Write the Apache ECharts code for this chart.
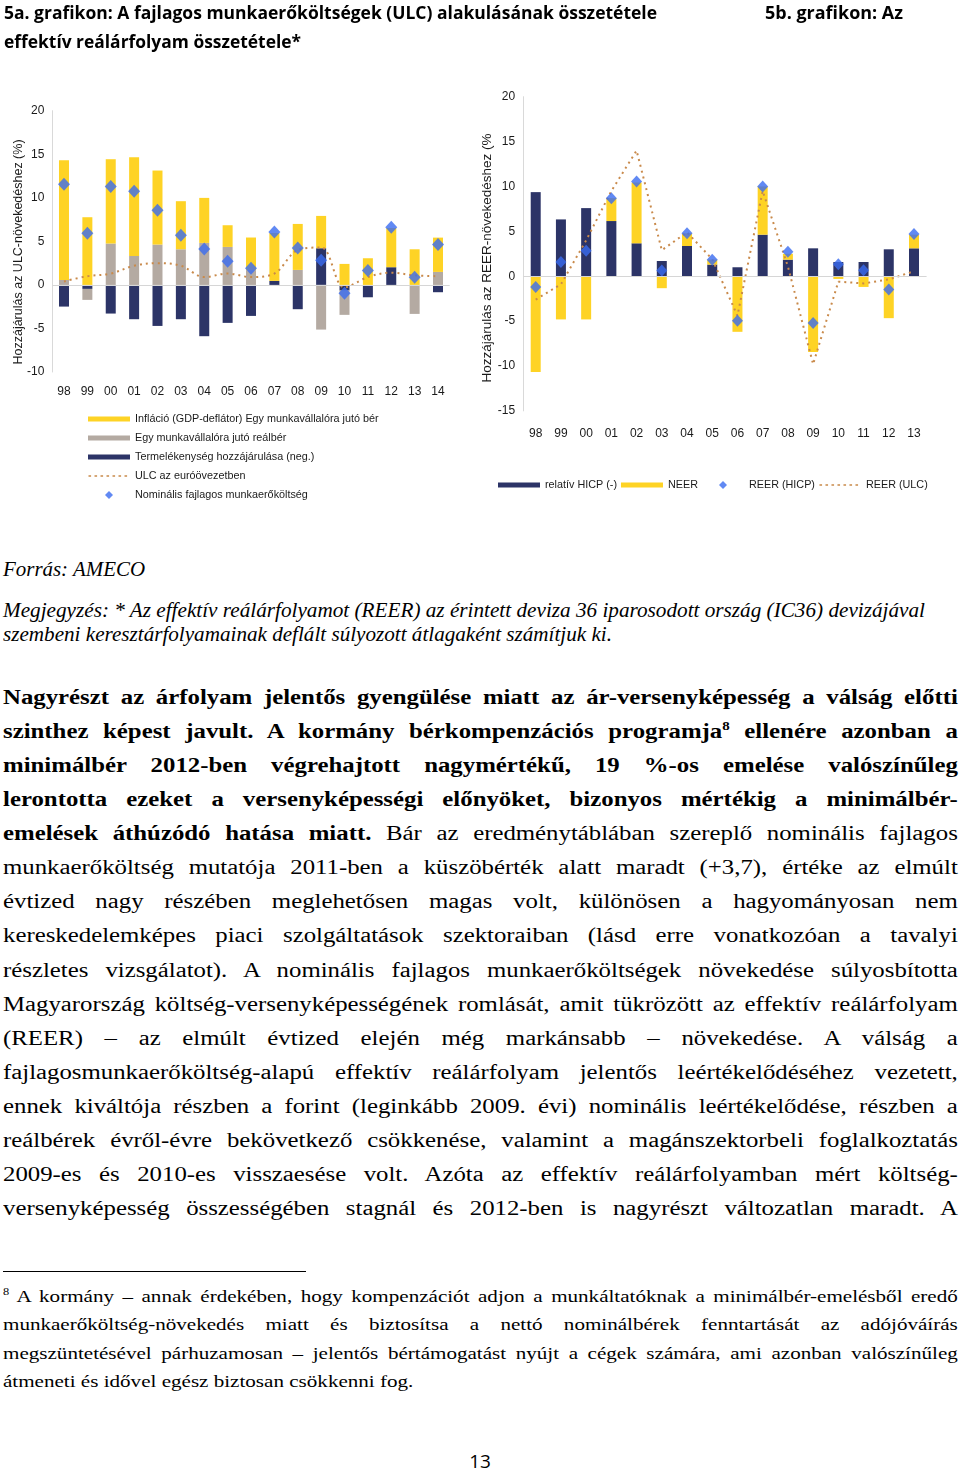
<!DOCTYPE html>
<html><head><meta charset="utf-8">
<script src="https://cdn.jsdelivr.net/npm/echarts@6/dist/echarts.min.js"></script>
<style>
html,body{margin:0;padding:0;background:#fff;}
body{width:960px;height:1473px;position:relative;overflow:hidden;}
#chart{position:absolute;left:0;top:0;width:960px;height:520px;}
.t{position:absolute;white-space:nowrap;color:#000;}
.fit{display:inline-block;transform-origin:0 50%;}
.title{font-family:'Open Sans','Liberation Sans',sans-serif;font-weight:700;font-size:18.5px;line-height:24px;}
.ital{font-family:'Liberation Serif','Times New Roman',serif;font-style:italic;font-size:20px;line-height:24px;}
.body{position:absolute;left:3px;width:770px;transform:scaleX(1.24);transform-origin:0 0;font-family:'Liberation Serif','Times New Roman',serif;font-size:20px;color:#000;}
.ln{height:34.07px;line-height:34.07px;text-align:justify;text-align-last:justify;white-space:normal;}
.fn{position:absolute;left:3px;width:770px;transform:scaleX(1.24);transform-origin:0 0;font-family:'Liberation Serif','Times New Roman',serif;font-size:17px;color:#000;}
.fl{height:28.3px;line-height:28.3px;text-align:justify;text-align-last:justify;}
.fl.last{text-align-last:left;}
b{font-weight:700;}
sup{font-size:12px;line-height:0;vertical-align:super;}
</style>
</head><body>
<div id="chart"></div>

<div class="t title" style="left:4px;top:0px;"><span class="fit" data-w="653">5a. grafikon: A fajlagos munkaerőköltségek (ULC) alakulásának összetétele</span></div>
<div class="t title" style="left:765px;top:0px;"><span class="fit" data-w="138">5b. grafikon: Az</span></div>
<div class="t title" style="left:4px;top:29px;"><span class="fit" data-w="297">effektív reálárfolyam összetétele*</span></div>

<div class="t ital" style="left:3px;top:557px;"><span class="fit" data-w="142">Forrás: AMECO</span></div>
<div class="t ital" style="left:3px;top:598px;"><span class="fit" data-w="922">Megjegyzés: * Az effektív reálárfolyamot (REER) az érintett deviza 36 iparosodott ország (IC36) devizájával</span></div>
<div class="t ital" style="left:3px;top:622px;"><span class="fit" data-w="609">szembeni keresztárfolyamainak deflált súlyozott átlagaként számítjuk ki.</span></div>

<div class="body" style="top:680px;">
<div class="ln"><b>Nagyrészt az árfolyam jelentős gyengülése miatt az ár-versenyképesség a válság előtti</b></div>
<div class="ln"><b>szinthez képest javult. A kormány bérkompenzációs programja<sup>8</sup> ellenére azonban a</b></div>
<div class="ln"><b>minimálbér 2012-ben végrehajtott nagymértékű, 19 %-os emelése valószínűleg</b></div>
<div class="ln"><b>lerontotta ezeket a versenyképességi előnyöket, bizonyos mértékig a minimálbér-</b></div>
<div class="ln"><b>emelések áthúzódó hatása miatt.</b> Bár az eredménytáblában szereplő nominális fajlagos</div>
<div class="ln">munkaerőköltség mutatója 2011-ben a küszöbérték alatt maradt (+3,7), értéke az elmúlt</div>
<div class="ln">évtized nagy részében meglehetősen magas volt, különösen a hagyományosan nem</div>
<div class="ln">kereskedelemképes piaci szolgáltatások szektoraiban (lásd erre vonatkozóan a tavalyi</div>
<div class="ln">részletes vizsgálatot). A nominális fajlagos munkaerőköltségek növekedése súlyosbította</div>
<div class="ln">Magyarország költség-versenyképességének romlását, amit tükrözött az effektív reálárfolyam</div>
<div class="ln">(REER) – az elmúlt évtized elején még markánsabb – növekedése. A válság a</div>
<div class="ln">fajlagosmunkaerőköltség-alapú effektív reálárfolyam jelentős leértékelődéséhez vezetett,</div>
<div class="ln">ennek kiváltója részben a forint (leginkább 2009. évi) nominális leértékelődése, részben a</div>
<div class="ln">reálbérek évről-évre bekövetkező csökkenése, valamint a magánszektorbeli foglalkoztatás</div>
<div class="ln">2009-es és 2010-es visszaesése volt. Azóta az effektív reálárfolyamban mért költség-</div>
<div class="ln">versenyképesség összességében stagnál és 2012-ben is nagyrészt változatlan maradt. A</div>
</div>

<div style="position:absolute;left:3px;top:1271px;width:303px;height:1.3px;background:#000;"></div>
<div class="fn" style="top:1283px;">
<div class="fl"><sup style="font-size:10px;">8</sup> A kormány – annak érdekében, hogy kompenzációt adjon a munkáltatóknak a minimálbér-emelésből eredő</div>
<div class="fl">munkaerőköltség-növekedés miatt és biztosítsa a nettó nominálbérek fenntartását az adójóváírás</div>
<div class="fl">megszüntetésével párhuzamosan – jelentős bértámogatást nyújt a cégek számára, ami azonban valószínűleg</div>
<div class="fl last">átmeneti és idővel egész biztosan csökkenni fog.</div>
</div>

<div class="t" style="left:0;width:960px;text-align:center;top:1448px;font-family:'Open Sans','Liberation Sans',sans-serif;font-size:19px;line-height:26px;">13</div>

<script>
// ---- 5a chart data ----
const catsA = ['98','99','00','01','02','03','04','05','06','07','08','09','10','11','12','13','14'];
const inflA = [13.74, 7.77, 9.68, 11.33, 8.50, 5.52, 5.17, 2.49, 3.74, 5.50, 5.28, 3.71, 2.41, 3.06, 4.50, 4.09, 3.94];
const realWageA = [0.57, -1.26, 4.75, 3.33, 4.63, 4.09, 4.82, 4.36, 1.70, 0, 1.72, -5.13, -2.79, 0, 0, -3.33, 1.49];
const prodA = [-2.49, -0.46, -3.29, -3.94, -4.71, -3.94, -5.89, -4.36, -3.56, 0.46, -2.79, 4.21, -0.65, -1.42, 2.03, 0, -0.84];
const ulcEuroA = [0.4, 1.0, 1.3, 2.2, 2.5, 2.2, 0.9, 1.3, 0.9, 1.3, 4.0, 4.3, -0.3, 0.9, 1.4, 1.1, 1.0];
const nomUlcA = [11.56, 5.93, 11.29, 10.75, 8.57, 5.70, 4.13, 2.72, 1.90, 6.08, 4.25, 2.83, -0.96, 1.65, 6.62, 0.88, 4.63];
// ---- 5b chart data ----
const catsB = ['98','99','00','01','02','03','04','05','06','07','08','09','10','11','12','13'];
const hicpB = [9.37, 6.33, 7.59, 6.15, 3.67, 1.70, 3.37, 1.30, 1.00, 4.63, 1.85, 3.11, 1.59, 1.59, 3.00, 3.11];
const neerB = [-10.67, -4.81, -4.81, 2.55, 6.77, -1.33, 1.41, 0.55, -6.19, 5.37, 0.65, -8.44, -0.30, -1.19, -4.67, 1.52];
const reerHicpB = [-1.19, 1.59, 2.85, 8.70, 10.56, 0.63, 4.78, 1.85, -4.96, 10.00, 2.74, -5.22, 1.33, 0.67, -1.48, 4.70];
const reerUlcB = [-2.6, -0.9, 4.0, 9.5, 14.0, 2.9, 4.9, 1.9, -4.4, 9.5, 1.1, -9.8, -0.6, -0.8, -0.35, 0.55];

const YEL = '#FED325', GRY = '#B4AAA2', NAVY = '#2C3467', DIA = '#3A6CF0', LINEC = '#C98A4B';
const FONT = "'Liberation Sans', Arial, sans-serif";
const TXT = '#1a1a1a';

// legend icon shapes (42 x 8 box)
const barIcon = 'path://M0,0M42,8M0,1.5h42v5h-42z';
let dots = 'path://M0,0M42,8';
for (let i = 0; i < 7; i++) { dots += 'M' + (i * 6 + 0.5) + ',3.2h2.6v1.6h-2.6z'; }
const diamondIcon = 'path://M0,0M42,8M21,0L25,4L21,8L17,4Z';

const chart = echarts.init(document.getElementById('chart'), null, {renderer: 'canvas'});
const zeroLine = {silent: true, symbol: 'none', label: {show: false}, lineStyle: {color: '#D6D6D6', width: 1, type: 'solid'}, data: [{yAxis: 0}]};

const yAx = (gi, min, max) => ({
  gridIndex: gi, type: 'value', min: min, max: max, interval: 5,
  axisLine: {show: true, lineStyle: {color: '#D9D9D9', width: 1}},
  axisTick: {show: false}, splitLine: {show: false},
  axisLabel: {color: TXT, fontSize: 12, fontFamily: FONT, margin: 8}
});
const xAx = (gi, cats, margin) => ({
  gridIndex: gi, type: 'category', data: cats, position: 'bottom',
  axisLine: {show: false, onZero: false}, axisTick: {show: false},
  axisLabel: {color: TXT, fontSize: 12, fontFamily: FONT, margin: margin, interval: 0}
});
const legText = {fontSize: 10.8, color: TXT, fontFamily: FONT, lineHeight: 12};

chart.setOption({
  animation: false,
  grid: [
    {left: 52.3, top: 110.7, width: 397.4, height: 261.3},
    {left: 523.1, top: 96.7, width: 403.5, height: 314.2}
  ],
  xAxis: [xAx(0, catsA, 14), xAx(1, catsB, 17)],
  yAxis: [yAx(0, -10, 20), yAx(1, -15, 20)],
  legend: [
    {orient: 'vertical', left: 88, top: 413, padding: 0, itemWidth: 42, itemHeight: 8, itemGap: 7,
     textStyle: legText,
     data: [
       {name: 'Infláció (GDP-deflátor) Egy munkavállalóra jutó bér', icon: barIcon},
       {name: 'Egy munkavállalóra jutó reálbér', icon: barIcon},
       {name: 'Termelékenység hozzájárulása (neg.)', icon: barIcon},
       {name: 'ULC az euróövezetben', icon: dots},
       {name: 'Nominális fajlagos munkaerőköltség', icon: diamondIcon}
     ]},
    {orient: 'horizontal', left: 498, top: 479, padding: 0, itemWidth: 42, itemHeight: 8, itemGap: 4,
     textStyle: legText,
     data: [
       {name: 'relatív HICP (-)', icon: barIcon},
       {name: 'NEER', icon: barIcon},
       {name: 'REER (HICP)', icon: diamondIcon},
       {name: 'REER (ULC)', icon: dots}
     ]}
  ],
  graphic: [
    {type: 'text', x: 19, y: 252, rotation: Math.PI / 2,
     style: {text: 'Hozzájárulás az ULC-növekedéshez (%)', fontSize: 12.5, fontFamily: FONT, fill: TXT, align: 'center', verticalAlign: 'middle'}},
    {type: 'text', x: 487, y: 258, rotation: Math.PI / 2,
     style: {text: 'Hozzájárulás az REER-növekedéshez (%', fontSize: 13.5, fontFamily: FONT, fill: TXT, align: 'center', verticalAlign: 'middle'}}
  ],
  series: [
    {name: 'Termelékenység hozzájárulása (neg.)', type: 'bar', xAxisIndex: 0, yAxisIndex: 0, stack: 'a', barWidth: 10,
     itemStyle: {color: NAVY}, data: prodA, markLine: zeroLine},
    {name: 'Egy munkavállalóra jutó reálbér', type: 'bar', xAxisIndex: 0, yAxisIndex: 0, stack: 'a', barWidth: 10,
     itemStyle: {color: GRY}, data: realWageA},
    {name: 'Infláció (GDP-deflátor) Egy munkavállalóra jutó bér', type: 'bar', xAxisIndex: 0, yAxisIndex: 0, stack: 'a', barWidth: 10,
     itemStyle: {color: YEL}, data: inflA},
    {name: 'ULC az euróövezetben', type: 'line', xAxisIndex: 0, yAxisIndex: 0, smooth: 0.35, symbol: 'none', z: 3,
     lineStyle: {color: LINEC, width: 2, type: [2, 4]}, itemStyle: {color: LINEC}, data: ulcEuroA},
    {name: 'Nominális fajlagos munkaerőköltség', type: 'scatter', xAxisIndex: 0, yAxisIndex: 0, symbol: 'diamond', symbolSize: [12, 13], z: 4,
     itemStyle: {color: DIA}, data: nomUlcA},

    {name: 'relatív HICP (-)', type: 'bar', xAxisIndex: 1, yAxisIndex: 1, stack: 'b', barWidth: 10,
     itemStyle: {color: NAVY}, data: hicpB, markLine: zeroLine},
    {name: 'NEER', type: 'bar', xAxisIndex: 1, yAxisIndex: 1, stack: 'b', barWidth: 10,
     itemStyle: {color: YEL}, data: neerB},
    {name: 'REER (ULC)', type: 'line', xAxisIndex: 1, yAxisIndex: 1, symbol: 'none', z: 3,
     lineStyle: {color: LINEC, width: 2, type: [2, 4]}, itemStyle: {color: LINEC}, data: reerUlcB},
    {name: 'REER (HICP)', type: 'scatter', xAxisIndex: 1, yAxisIndex: 1, symbol: 'diamond', symbolSize: [11, 12], z: 4,
     itemStyle: {color: DIA}, data: reerHicpB}
  ]
});

// fit selected text lines to their measured widths in the reference
document.querySelectorAll('.fit').forEach(function (el) {
  const w = parseFloat(el.getAttribute('data-w'));
  const actual = el.getBoundingClientRect().width;
  if (actual > 0) el.style.transform = 'scaleX(' + (w / actual) + ')';
});
</script>
</body></html>
